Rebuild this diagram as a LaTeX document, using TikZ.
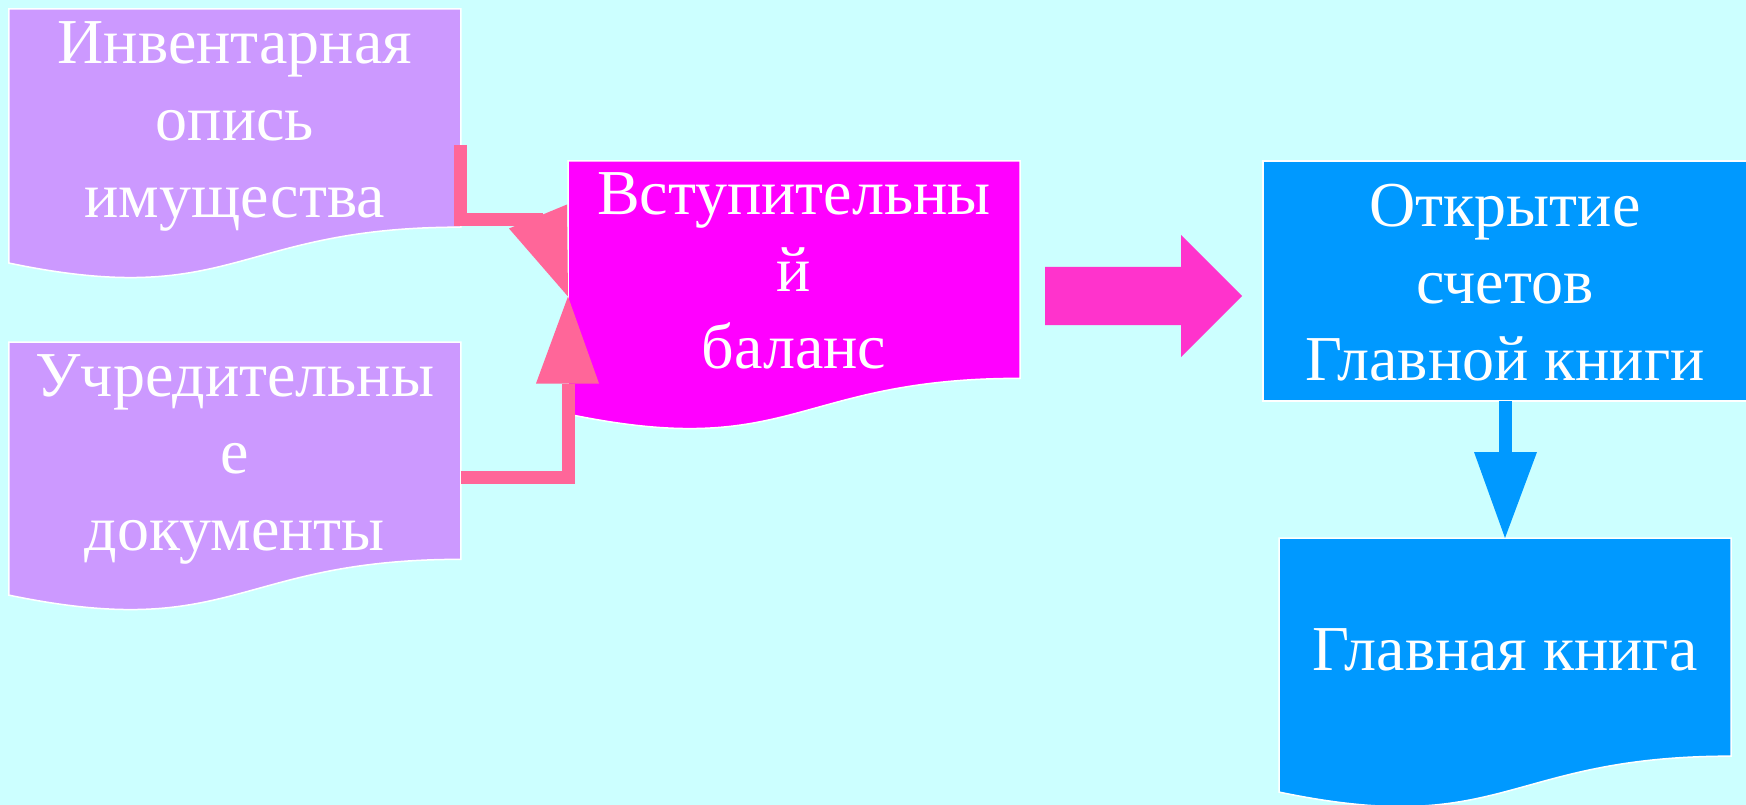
\documentclass[tikz,border=0pt]{standalone}
\usepackage{fontspec}
\setmainfont{Liberation Serif}
\usetikzlibrary{calc}

\definecolor{bgcyan}{HTML}{CCFFFF}
\definecolor{docviolet}{HTML}{CC99FF}
\definecolor{docmagenta}{HTML}{FF00FF}
\definecolor{docblue}{HTML}{0099FF}
\definecolor{connpink}{HTML}{FF6699}
\definecolor{arrowpink}{HTML}{FF33CC}

\tikzset{
  shapebox/.style={rectangle, inner sep=0pt, outer sep=0pt,
                   minimum width=452pt, minimum height=272pt},
  txt/.style={text=white, font=\fontsize{64}{77}\selectfont,
              align=center, anchor=base, inner sep=0pt},
  outline/.style={draw=white, line width=1.5pt},
  pinkline/.style={draw=connpink, line width=13pt},
  blueline/.style={draw=docblue, line width=13pt},
}

% flowchart "document" outline drawn on the box of node #1
\newcommand\docpath[2]{%
  \path[outline, fill=#2] (#1.north west) -- (#1.north east)
    -- ($(#1.north east)!0.802!(#1.south east)$)
    .. controls ($(#1.north)!0.802!(#1.south)$) and ($(#1.north)!1.1075!(#1.south)$)
    .. ($(#1.north west)!0.934!(#1.south west)$) -- cycle;}

\begin{document}
\begin{tikzpicture}[x=1pt, y=-1pt]
  \useasboundingbox (0,0) rectangle (1746,805);
  \fill[bgcyan] (0,0) rectangle (1746,805);

  % boxes
  \node[shapebox] (inv)    at (234.85,145)   {};
  \node[shapebox, minimum height=271pt] (found) at (234.85,477.5) {};
  \node[shapebox, minimum height=271pt] (bal)   at (794,296.5)    {};
  \node[shapebox, minimum width=484pt, minimum height=240pt] (acct) at (1505,281) {};
  \node[shapebox] (ledger) at (1505,674)   {};

  \docpath{inv}{docviolet}
  \docpath{found}{docviolet}
  \docpath{bal}{docmagenta}
  \path[outline, fill=docblue] (acct.north west) rectangle (acct.south east);
  \docpath{ledger}{docblue}

  % connectors into the opening balance
  \draw[pinkline] (inv.east) -- ++(0,75) -- ($(bal.west)+(-25,-76.5)$);
  \fill[connpink] (bal.west) -- ($(bal.west)+(-59,-68)$) -- ($(bal.west)+(-1,-92)$) -- cycle;

  \draw[pinkline] (found.east) -| ($(bal.west)+(0,87)$);
  \fill[connpink] (bal.west) -- ($(bal.west)+(-32,87)$) -- ($(bal.west)+(31,87)$) -- cycle;

  % accounts to ledger
  \draw[blueline] (acct.south) -- ($(ledger.north)+(0,-86)$);
  \fill[docblue] (ledger.north) -- ($(ledger.north)+(-31,-86)$) -- ($(ledger.north)+(32,-86)$) -- cycle;

  % block arrow between balance and accounts
  \fill[arrowpink] (1045,267) -- (1181,267) -- (1181,235) -- (1242,296)
    -- (1181,357) -- (1181,325) -- (1045,325) -- cycle;

  % texts (anchored on the baseline of their last line)
  \node[txt] (inv-t)    at ($(inv.north)+(0,209)$)    {Инвентарная\\опись\\имущества};
  \node[txt] (found-t)  at ($(found.north)+(0,208)$)  {Учредительны\\е\\документы};
  \node[txt] (bal-t)    at ($(bal.north)+(0,207)$)    {Вступительны\\й\\баланс};
  \node[txt] (acct-t)   at ($(acct.north)+(0,219)$)   {Открытие\\счетов\\Главной книги};
  \node[txt] (ledger-t) at ($(ledger.north)+(0,132)$) {Главная книга};
\end{tikzpicture}
\end{document}
